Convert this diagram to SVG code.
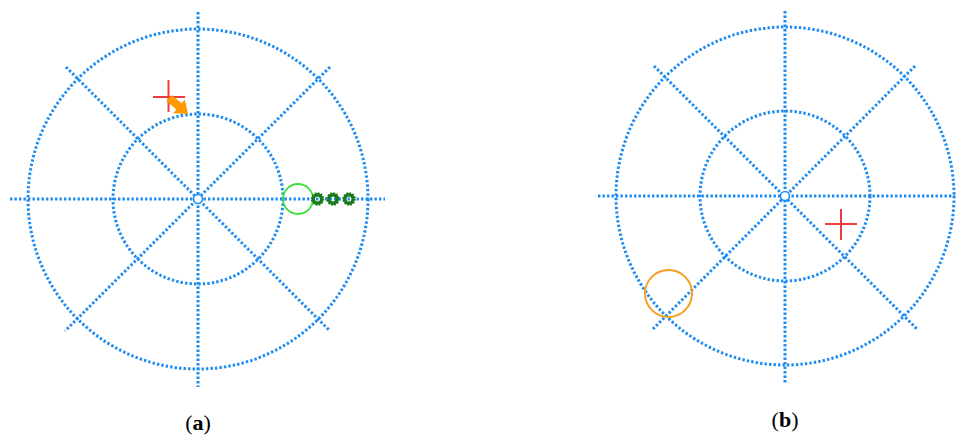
<svg xmlns="http://www.w3.org/2000/svg" width="958" height="437" viewBox="0 0 958 437">
<style>
.dot{fill:none;stroke:#1e8cf0;stroke-width:3;stroke-dasharray:2.4 2.1}
.ring{fill:none;stroke:#1e8cf0;stroke-width:1.6}
.cross{stroke:#f23a3a;stroke-width:2;fill:none}
.lbl{font-family:"Liberation Serif","DejaVu Serif",serif;font-size:22px;fill:#000}
</style>
<rect width="958" height="437" fill="#fff"/>
<g id="panel-a">
  <g id="grid-a">
    <circle class="dot" cx="198" cy="199" r="170"/>
    <circle class="dot" cx="198" cy="199" r="85"/>
    <line class="dot" x1="10" y1="199" x2="385" y2="199"/>
    <line class="dot" x1="198" y1="12" x2="198" y2="387"/>
    <line class="dot" x1="66" y1="67" x2="330" y2="331"/>
    <line class="dot" x1="330" y1="67" x2="65" y2="331"/>
    <circle cx="198" cy="199" r="5" fill="#fff"/>
    <circle class="ring" cx="198" cy="199" r="4.5"/>
  </g>
  <g id="cross-a">
    <line class="cross" x1="153" y1="97" x2="185" y2="97"/>
    <line class="cross" x1="168.5" y1="80" x2="168.5" y2="112"/>
  </g>
  <g id="arrow-a">
    <polygon fill="#ff9a00" transform="translate(169,98) rotate(40)" points="0,-4 13,-4 13,-9 25,0 13,9 13,4 0,4"/>
  </g>
  <g id="green-circle-a">
    <circle cx="298" cy="199" r="15" fill="none" stroke="#3ee03e" stroke-width="1.8"/>
  </g>
  <g id="gears-a" fill="none" stroke="#1b7a1b">
    <circle cx="317.5" cy="199" r="4.2" stroke-width="3.4"/>
    <circle cx="317.5" cy="199" r="6" stroke-width="1.6" stroke-dasharray="1.6 1.5"/>
    <circle cx="333" cy="199" r="4.2" stroke-width="3.4"/>
    <circle cx="333" cy="199" r="6" stroke-width="1.6" stroke-dasharray="1.6 1.5"/>
    <circle cx="349" cy="199" r="4.2" stroke-width="3.4"/>
    <circle cx="349" cy="199" r="6" stroke-width="1.6" stroke-dasharray="1.6 1.5"/>
  </g>
  <text class="lbl" x="198" y="430" text-anchor="middle">(<tspan font-weight="bold">a</tspan>)</text>
</g>
<g id="panel-b">
  <g id="grid-b">
    <circle class="dot" cx="785" cy="196" r="169"/>
    <circle class="dot" cx="785" cy="196" r="85"/>
    <line class="dot" x1="598" y1="196" x2="955" y2="196"/>
    <line class="dot" x1="785" y1="11" x2="785" y2="383"/>
    <line class="dot" x1="654" y1="66" x2="917" y2="329"/>
    <line class="dot" x1="915" y1="66" x2="653" y2="329"/>
    <circle cx="785" cy="196" r="5" fill="#fff"/>
    <circle class="ring" cx="785" cy="196" r="4.5"/>
  </g>
  <g id="cross-b">
    <line class="cross" x1="825" y1="224" x2="857" y2="224"/>
    <line class="cross" x1="841" y1="209" x2="841" y2="240"/>
  </g>
  <g id="orange-circle-b">
    <circle cx="668.5" cy="293.5" r="23.5" fill="none" stroke="#f5a020" stroke-width="2"/>
  </g>
  <text class="lbl" x="785" y="427" text-anchor="middle">(<tspan font-weight="bold">b</tspan>)</text>
</g>
</svg>
